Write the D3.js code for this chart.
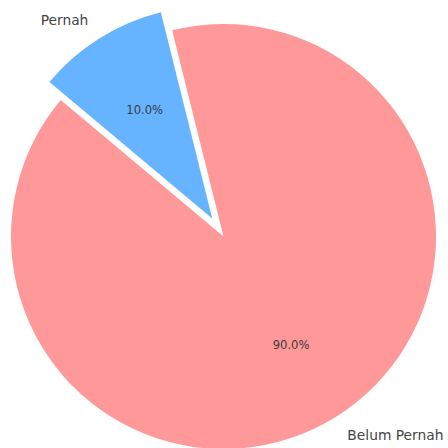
<!DOCTYPE html>
<html>
<head>
<meta charset="utf-8">
<script src="https://cdn.jsdelivr.net/npm/d3@7"></script>
<style>
  html, body { margin: 0; padding: 0; background: #ffffff; }
  svg { display: block; }
</style>
</head>
<body>
<svg id="chart" width="448" height="448"></svg>
<script>
const categories = ["Belum Pernah", "Pernah"];
const values = [90, 10];
const colors = ["#ff9999", "#66b3ff"];
const explode = [0, 0.1];

const W = 448, H = 448;
const cx = 223.5, cy = 236.5, R = 212.5;
const startDeg = 140; // matplotlib-style start angle (CCW from +x)

const svg = d3.select("#chart");
const g = svg.append("g").attr("transform", `translate(${cx},${cy})`);

const toRad = d => d * Math.PI / 180;
const d3Start = toRad(90 - startDeg);
const pie = d3.pie().sort(null).value(d => d.value)
  .startAngle(d3Start).endAngle(d3Start - 2 * Math.PI);

const data = categories.map((c, i) => ({ name: c, value: values[i], color: colors[i], explode: explode[i] }));
const arcs = pie(data);
const arc = d3.arc().innerRadius(0).outerRadius(R);
const total = d3.sum(values);

arcs.forEach(a => {
  const mid = (a.startAngle + a.endAngle) / 2;
  const ux = Math.sin(mid), uy = -Math.cos(mid);
  const off = a.data.explode * R;
  const wg = g.append("g").attr("transform", `translate(${ux * off},${uy * off})`);
  wg.append("path").attr("d", arc(a)).attr("fill", a.data.color);
  // percentage label
  wg.append("text")
    .attr("x", ux * 0.6 * R).attr("y", uy * 0.6 * R)
    .attr("dy", "0.35em")
    .attr("text-anchor", "middle")
    .attr("font-family", "DejaVu Sans")
    .attr("font-size", 11.6)
    .attr("fill", "#3a3a3a")
    .text((a.data.value / total * 100).toFixed(1) + "%");
  // category label
  wg.append("text")
    .attr("x", ux * 1.1 * R).attr("y", uy * 1.1 * R)
    .attr("dy", "0.35em")
    .attr("text-anchor", ux < 0 ? "end" : "start")
    .attr("font-family", "DejaVu Sans")
    .attr("font-size", 13.8)
    .attr("fill", "#444")
    .text(a.data.name);
});
</script>
</body>
</html>
